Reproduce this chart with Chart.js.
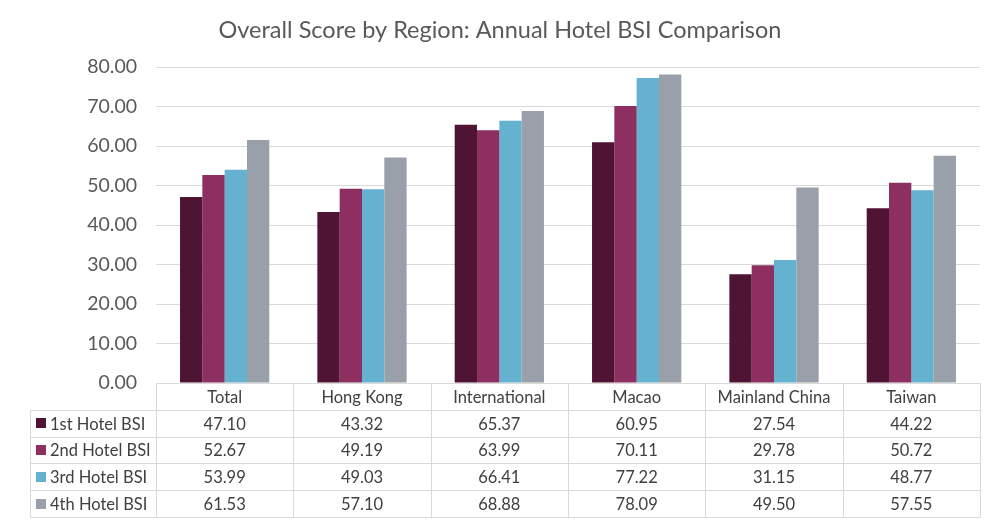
<!DOCTYPE html>
<html>
<head>
<meta charset="utf-8">
<script src="https://cdn.jsdelivr.net/npm/chart.js@4.4.1/dist/chart.umd.min.js"></script>
<style>
html,body{margin:0;padding:0;background:#fff;}
#wrap{width:1000px;height:527px;position:relative;}
</style>
</head>
<body>
<div id="wrap"><canvas id="c" width="1000" height="527"></canvas></div>
<script>
const titleText = "Overall Score by Region: Annual Hotel BSI Comparison";
const categories = ["Total", "Hong Kong", "International", "Macao", "Mainland China", "Taiwan"];
const seriesNames = ["1st Hotel BSI", "2nd Hotel BSI", "3rd Hotel BSI", "4th Hotel BSI"];
const bsi1 = [47.10, 43.32, 65.37, 60.95, 27.54, 44.22];
const bsi2 = [52.67, 49.19, 63.99, 70.11, 29.78, 50.72];
const bsi3 = [53.99, 49.03, 66.41, 77.22, 31.15, 48.77];
const bsi4 = [61.53, 57.10, 68.88, 78.09, 49.50, 57.55];
const colors = ["#4F1333", "#8E2F61", "#64B1D0", "#99A0A9"];
const yMin = 0, yMax = 80, yStep = 10;

const seriesValues = [bsi1, bsi2, bsi3, bsi4];
const FONT = "Lato, 'Open Sans', sans-serif";
const TEXT = "#595959";

const tablePlugin = {
  id: 'tablePlugin',
  afterDraw(chart) {
    const ctx = chart.ctx;
    const area = chart.chartArea;
    const n = categories.length;
    const w = (area.right - area.left) / n;
    const top = Math.round(area.bottom);
    const rowH = 26.8;
    const legLeft = 30;
    const rows = seriesNames.length;
    ctx.save();
    // title
    ctx.fillStyle = TEXT;
    ctx.font = "23.5px " + FONT;
    ctx.textAlign = "center";
    ctx.textBaseline = "middle";
    ctx.fillText(titleText, 500, 30);

    ctx.strokeStyle = "#D9D9D9";
    ctx.lineWidth = 1;
    ctx.beginPath();
    ctx.moveTo(area.left, top + 0.5); ctx.lineTo(area.right, top + 0.5);
    for (let k = 1; k <= rows + 1; k++) {
      const y = Math.round(top + k * rowH) + 0.5;
      ctx.moveTo(legLeft, y); ctx.lineTo(area.right, y);
    }
    for (let i = 0; i <= n; i++) {
      const x = Math.round(area.left + i * w) + 0.5;
      ctx.moveTo(x, top); ctx.lineTo(x, Math.round(top + (rows + 1) * rowH) + 0.5);
    }
    ctx.moveTo(legLeft + 0.5, Math.round(top + rowH)); ctx.lineTo(legLeft + 0.5, Math.round(top + (rows + 1) * rowH) + 0.5);
    ctx.stroke();

    ctx.font = "16.5px " + FONT;
    ctx.fillStyle = "#404040";
    ctx.textAlign = "center";
    for (let i = 0; i < n; i++) {
      const cx = area.left + (i + 0.5) * w;
      ctx.fillText(categories[i], cx, top + rowH / 2 + 1);
      for (let r = 0; r < rows; r++) {
        ctx.fillText(seriesValues[r][i].toFixed(2), cx, top + (r + 1.5) * rowH + 1);
      }
    }
    ctx.textAlign = "left";
    for (let r = 0; r < rows; r++) {
      const cy = top + (r + 1.5) * rowH;
      ctx.fillStyle = colors[r];
      ctx.fillRect(36, Math.round(cy - 5), 10, 10);
      ctx.fillStyle = "#404040";
      ctx.fillText(seriesNames[r], 50, cy + 1);
    }
    ctx.restore();
  }
};

new Chart(document.getElementById('c'), {
  type: 'bar',
  data: {
    labels: categories,
    datasets: seriesNames.map((name, i) => ({
      label: name,
      data: seriesValues[i],
      backgroundColor: colors[i],
      borderWidth: 0,
      categoryPercentage: 0.65,
      barPercentage: 1.0
    }))
  },
  options: {
    responsive: false,
    animation: false,
    devicePixelRatio: 1,
    layout: { padding: { top: 67, bottom: 144, left: 0, right: 20 } },
    plugins: { legend: { display: false }, title: { display: false }, tooltip: { enabled: false } },
    scales: {
      x: { display: false },
      y: {
        min: yMin, max: yMax,
        ticks: { stepSize: yStep, padding: 19, color: TEXT, font: { family: FONT, size: 19.5 },
                 callback: v => Number(v).toFixed(2) },
        grid: { color: "#D9D9D9", drawTicks: false },
        border: { display: false },
        afterFit(scale) { scale.width = 156; }
      }
    }
  },
  plugins: [tablePlugin]
});
</script>
</body>
</html>
